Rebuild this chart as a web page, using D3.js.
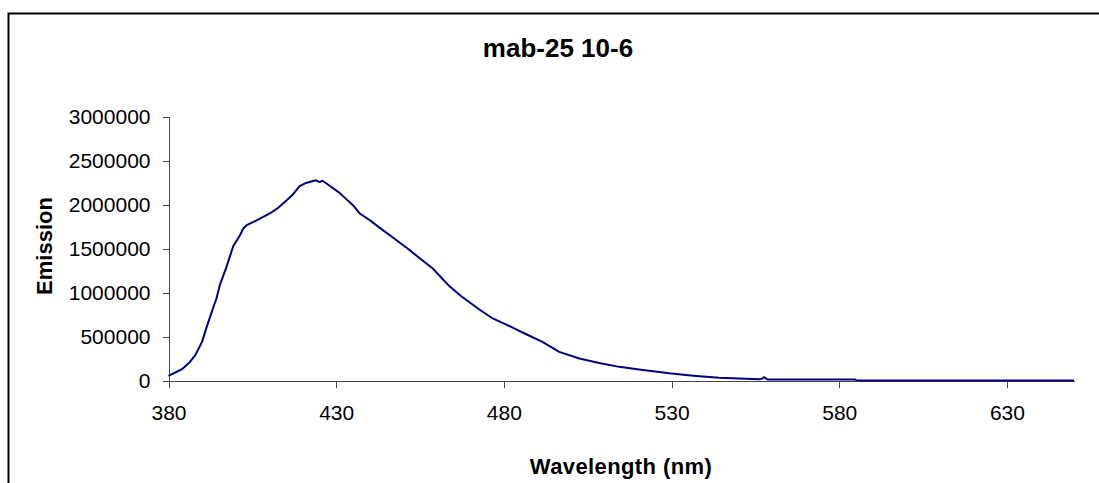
<!DOCTYPE html>
<html>
<head>
<meta charset="utf-8">
<script src="https://cdn.jsdelivr.net/npm/d3@7"></script>
<style>
  html, body { margin: 0; padding: 0; background: #fff; }
  svg { display: block; font-family: "Liberation Sans", Arial, sans-serif; }
</style>
</head>
<body>
<svg id="spectrum-svg" width="1099" height="483"></svg>
<script>
// emission spectrum
const wavelengths = [380, 384, 386.4, 388, 390, 391.4, 392.9, 394.3, 395.3, 397.3, 399.3, 401.3,
  402.3, 403.3, 406, 410.2, 412.7, 415, 417.1, 419.1, 421, 423.1, 424, 425, 425.9, 427.1, 431,
  435, 437, 440, 443, 446.9, 450.9, 454.9, 458.8, 463.8, 467.3, 472.7, 476.7, 482.6, 487, 491.5,
  496.5, 502.5, 508.4, 514.4, 520.3, 523.3, 529.3, 536.5, 544.2, 550, 556.1, 557, 557.6, 558.6,
  570, 584.8, 585.3, 600, 625, 650];
const emission = [52000, 128000, 211000, 288000, 439000, 609000, 780000, 932000, 1083000, 1291000,
  1526000, 1651000, 1727000, 1765000, 1815000, 1898000, 1962000, 2040000, 2114000, 2208000,
  2245000, 2268000, 2275000, 2255000, 2270000, 2239000, 2132000, 1992000, 1898000, 1822000,
  1734000, 1625000, 1511000, 1390000, 1273000, 1070000, 958000, 807000, 705000, 602000, 520000,
  439000, 325000, 250000, 200000, 155000, 125000, 112000, 82000, 55000, 32000, 22000, 15000,
  20000, 38000, 11000, 11000, 11000, 0, 0, 0, 0];

const xTicks = [380, 430, 480, 530, 580, 630];
const yTicks = [0, 500000, 1000000, 1500000, 2000000, 2500000, 3000000];

const chartTitle = 'mab-25 10-6';
const xTitle = 'Wavelength (nm)';
const yTitle = 'Emission';

(function() {

  let svg = d3.select('#spectrum-svg');

  // chart area frame (runs off the right and bottom edges of the picture)
  svg.append('rect')
    .attr('x', 8.5)
    .attr('y', 13.5)
    .attr('width', 1200)
    .attr('height', 600)
    .attr('fill', '#fff')
    .attr('stroke', '#000')
    .attr('stroke-width', 2);

  let xScale = d3.scaleLinear()
    .domain([380, 650])
    .range([168.5, 1074]);
  let yScale = d3.scaleLinear()
    .domain([0, 3000000])
    .range([380.5, 116.5]);

  // x axis
  let xAxis = svg.append('g')
    .attr('transform', `translate(0, ${yScale(0)})`)
    .call(d3.axisBottom(xScale).tickValues(xTicks).tickFormat(d3.format('d')).tickSize(7).tickSizeOuter(0));
  xAxis.selectAll('text')
    .attr('y', 39)
    .attr('dy', 0)
    .attr('font-size', '21px')
    .attr('fill', '#000');

  // y axis
  let yAxis = svg.append('g')
    .attr('transform', `translate(${xScale(380)}, 0)`)
    .call(d3.axisLeft(yScale).tickValues(yTicks).tickFormat(d3.format('d')).tickSize(6).tickSizeOuter(0));
  yAxis.selectAll('text')
    .attr('x', -18)
    .attr('dy', '0.33em')
    .attr('font-size', '21px')
    .attr('fill', '#000');

  svg.selectAll('.domain, .tick line')
    .attr('stroke', '#444')
    .attr('shape-rendering', 'crispEdges');

  let points = d3.zip(wavelengths, emission).map((el) => {
    return { wavelength: el[0], value: el[1] };
  });

  let line = d3.line()
    .x((d) => xScale(d.wavelength))
    .y((d) => yScale(d.value));

  svg.append('path')
    .datum(points)
    .attr('fill', 'none')
    .attr('stroke', '#000080')
    .attr('stroke-width', 2)
    .attr('stroke-linejoin', 'round')
    .attr('d', line);

  // titles
  svg.append('text')
    .attr('x', 558)
    .attr('y', 57)
    .attr('text-anchor', 'middle')
    .attr('font-size', '26px')
    .attr('font-weight', 'bold')
    .text(chartTitle);

  svg.append('text')
    .attr('x', 621)
    .attr('y', 474)
    .attr('text-anchor', 'middle')
    .attr('font-size', '22px')
    .attr('font-weight', 'bold')
    .attr('letter-spacing', '0.4px')
    .text(xTitle);

  svg.append('text')
    .attr('transform', 'rotate(-90)')
    .attr('x', -246)
    .attr('y', 52)
    .attr('text-anchor', 'middle')
    .attr('font-size', '22px')
    .attr('font-weight', 'bold')
    .text(yTitle);

})();
</script>
</body>
</html>
